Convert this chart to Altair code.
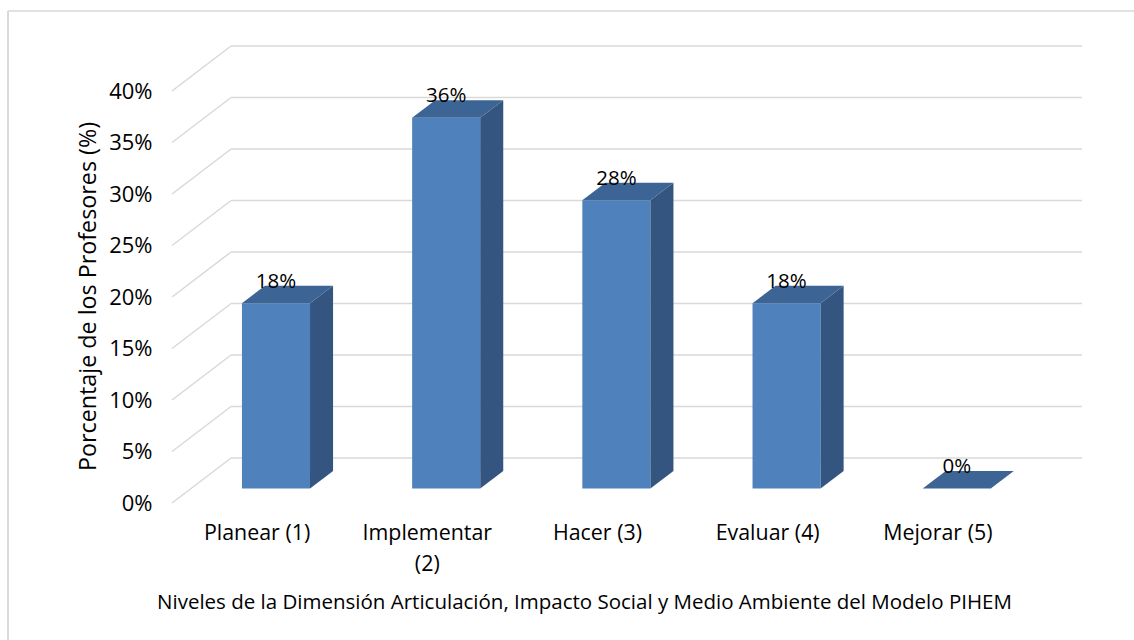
import altair as alt
import pandas as pd

# ---- data ----
categories = ["Planear (1)", "Implementar\n(2)", "Hacer (3)", "Evaluar (4)", "Mejorar (5)"]
values = [18, 36, 28, 18, 0]
value_labels = ["18%", "36%", "28%", "18%", "0%"]
y_ticks = [0, 5, 10, 15, 20, 25, 30, 35, 40]

# ---- 3D geometry (in data units) ----
DX = 0.347      # depth of the wall along x (category units)
DY = 4.37       # depth of the wall along y (percent units)
T0 = 0.32       # front of bars, as a fraction of depth
T1 = 0.71       # back of bars
BW = 0.40       # bar width (category units)
YMAX = 40

FRONT = "#4F81BD"
SIDE = "#33557F"
TOP = "#3C6494"
GRID = "#D9D9D9"
FONT = "Open Sans"

n = len(categories)

# gridlines
diag = pd.DataFrame({"x": [0.0] * len(y_ticks), "x2": [DX] * len(y_ticks),
                     "y": y_ticks, "y2": [t + DY for t in y_ticks]})
back = pd.DataFrame({"x": [DX] * len(y_ticks), "x2": [n + DX] * len(y_ticks),
                     "y": [t + DY for t in y_ticks]})

# bars
rows_front, rows_top, rows_side, rows_lab = [], [], [], []
for i, (c, v, lab) in enumerate(zip(categories, values, value_labels)):
    xl = i + 0.5 - BW / 2 + T0 * DX
    xr = i + 0.5 + BW / 2 + T0 * DX
    y0 = T0 * DY
    rows_front.append({"cat": c, "x": xl, "x2": xr, "y": y0, "y2": v + y0})
    d = (T1 - T0)
    rows_top.append({"cat": c, "y": v + y0, "x": xl, "x2": xr})
    rows_top.append({"cat": c, "y": v + y0 + d * DY, "x": xl + d * DX, "x2": xr + d * DX})
    rows_side.append({"cat": c, "x": xr, "y": y0, "y2": v + y0})
    rows_side.append({"cat": c, "x": xr + d * DX, "y": y0 + d * DY, "y2": v + y0 + d * DY})
    rows_lab.append({"cat": c, "x": i + 0.5 + T0 * DX, "y": v + T1 * DY, "lab": lab})

front = pd.DataFrame(rows_front)
top = pd.DataFrame(rows_top)
side = pd.DataFrame(rows_side)
labs = pd.DataFrame(rows_lab)
cats = pd.DataFrame({"x": [i + 0.5 for i in range(n)], "y": [0] * n, "cat": categories})

xs = alt.Scale(domain=[0, n + DX], nice=False, zero=False)
ys = alt.Scale(domain=[0, YMAX + DY], nice=False, zero=False)

X_AXIS = alt.Axis(labels=False, ticks=False, domain=False, grid=False,
                  title="Niveles de la Dimensión Articulación, Impacto Social y Medio Ambiente del Modelo PIHEM",
                  titleFont=FONT, titleFontSize=20.5, titleFontWeight="normal", titleColor="#000000",
                  titleX=412, titleY=99, titleBaseline="middle", titleAlign="center")
Y_AXIS = alt.Axis(values=y_ticks, format=".0f", labelExpr="datum.value + '%'",
                  ticks=False, domain=False, grid=False, labelPadding=20,
                  labelFont=FONT, labelFontSize=22, labelColor="#000000",
                  title="Porcentaje de los Profesores (%)", titleFont=FONT, titleFontSize=23.3,
                  titleFontWeight="normal", titleColor="#000000",
                  titleAngle=-90, titleX=-84, titleY=250, titleAlign="center", titleBaseline="middle")

diag_l = alt.Chart(diag).mark_rule(color=GRID, strokeWidth=1.5).encode(
    x=alt.X("x:Q", scale=xs, axis=X_AXIS), x2="x2:Q",
    y=alt.Y("y:Q", scale=ys, axis=Y_AXIS), y2="y2:Q")
back_l = alt.Chart(back).mark_rule(color=GRID, strokeWidth=1.5).encode(
    x=alt.X("x:Q", scale=xs), x2="x2:Q", y=alt.Y("y:Q", scale=ys))

front_l = alt.Chart(front).mark_rect(color=FRONT).encode(
    x=alt.X("x:Q", scale=xs), x2="x2:Q", y=alt.Y("y:Q", scale=ys), y2="y2:Q")
top_l = alt.Chart(top).mark_area(color=TOP, orient="horizontal").encode(
    y=alt.Y("y:Q", scale=ys), x=alt.X("x:Q", scale=xs), x2="x2:Q", detail="cat:N")
side_l = alt.Chart(side).mark_area(color=SIDE, orient="vertical").encode(
    x=alt.X("x:Q", scale=xs), y=alt.Y("y:Q", scale=ys), y2="y2:Q", detail="cat:N")

lab_l = alt.Chart(labs).mark_text(font=FONT, fontSize=20.5, color="#000000",
                                  baseline="alphabetic", align="center", dy=2).encode(
    x=alt.X("x:Q", scale=xs), y=alt.Y("y:Q", scale=ys), text="lab:N")
cat_l = alt.Chart(cats).mark_text(font=FONT, fontSize=21.4, color="#000000", lineBreak="\n",
                                  lineHeight=31, baseline="top", align="center", dy=20).encode(
    x=alt.X("x:Q", scale=xs), y=alt.Y("y:Q", scale=ys), text="cat:N")

border_top = alt.Chart(pd.DataFrame({"k": [0]})).mark_rule(color=GRID, strokeWidth=1.5).encode(
    x=alt.value(-164), x2=alt.value(1000), y=alt.value(-35))
border_left = alt.Chart(pd.DataFrame({"k": [0]})).mark_rule(color=GRID, strokeWidth=2).encode(
    x=alt.value(-164), y=alt.value(-35), y2=alt.value(700))

chart = alt.layer(border_top, border_left, diag_l, back_l, front_l, side_l, top_l, lab_l, cat_l).properties(
    width=910, height=457,
    autosize=alt.AutoSizeParams(type="none"),
    padding={"left": 172, "top": 46, "right": 52, "bottom": 137},
    background="white",
).configure_view(stroke=None)

chart.save("out.html", embed_options={"renderer": "svg", "actions": False})
